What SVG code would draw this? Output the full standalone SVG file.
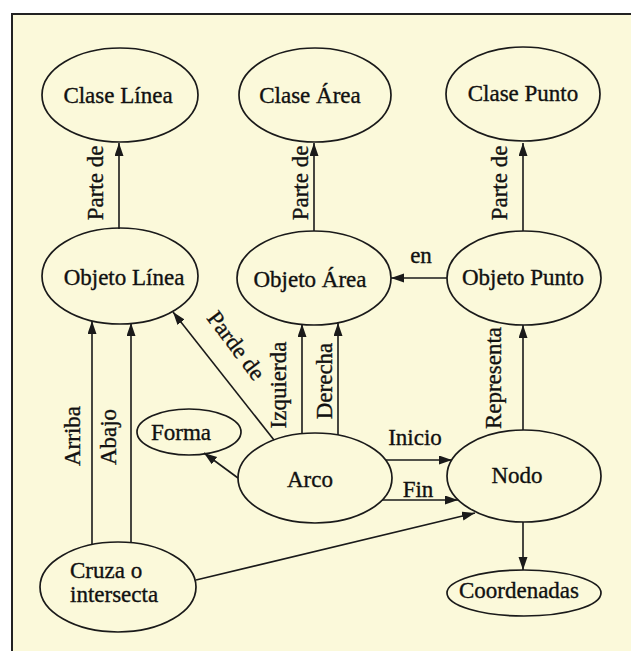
<svg xmlns="http://www.w3.org/2000/svg" width="631" height="651" viewBox="0 0 631 651">
  <style>
    .node ellipse { fill: none; stroke: #1a1a1a; stroke-width: 1.7; }
    .lbl { font-family: "Liberation Serif", "Times New Roman", serif; font-size: 23px; fill: #111; stroke: #111; stroke-width: 0.35; }
    .mid { text-anchor: middle; }
    .edge { stroke: #1a1a1a; stroke-width: 1.6; fill: none; marker-end: url(#arrow); }
    .elbl { font-family: "Liberation Serif", "Times New Roman", serif; font-size: 23px; fill: #111; stroke: #111; stroke-width: 0.35; text-anchor: middle; }
  </style>
  <defs>
    <marker id="arrow" markerUnits="userSpaceOnUse" markerWidth="14" markerHeight="10" refX="13" refY="4.5" orient="auto">
      <path d="M0,0 L13,4.5 L0,9 Z" fill="#1a1a1a"/>
    </marker>
  </defs>

  <!-- page and frame -->
  <rect x="0" y="0" width="631" height="651" fill="#ffffff"/>
  <rect x="12" y="14" width="640" height="660" fill="#fbf9da" stroke="#222" stroke-width="2"/>

  <!-- connectors -->
  <g id="connectors">
    <line class="edge" x1="119" y1="229" x2="119" y2="143"/>
    <line class="edge" x1="314" y1="231" x2="314" y2="143"/>
    <line class="edge" x1="523" y1="231" x2="523" y2="143"/>
    <line class="edge" x1="447" y1="278" x2="391" y2="278"/>
    <line class="edge" x1="274" y1="440" x2="173" y2="312"/>
    <line class="edge" x1="302" y1="434" x2="302" y2="324"/>
    <line class="edge" x1="338" y1="435" x2="338" y2="323"/>
    <line class="edge" x1="523" y1="430" x2="523" y2="325"/>
    <line class="edge" x1="238" y1="478" x2="204" y2="453"/>
    <line class="edge" x1="386" y1="460" x2="452" y2="460"/>
    <line class="edge" x1="382" y1="500" x2="458" y2="500"/>
    <line class="edge" x1="92" y1="545" x2="92" y2="321"/>
    <line class="edge" x1="131" y1="543" x2="131" y2="323"/>
    <line class="edge" x1="196" y1="580" x2="475" y2="513"/>
    <line class="edge" x1="523" y1="522" x2="523" y2="570"/>

    <!-- edge labels -->
    <text class="elbl" transform="translate(103 183) rotate(-90)">Parte de</text>
    <text class="elbl" transform="translate(308 183) rotate(-90)">Parte de</text>
    <text class="elbl" transform="translate(507 183) rotate(-90)">Parte de</text>
    <text class="elbl" x="421" y="263">en</text>
    <text class="elbl" transform="translate(230 350) rotate(53)">Parde de</text>
    <text class="elbl" transform="translate(80 436) rotate(-90)">Arriba</text>
    <text class="elbl" transform="translate(116 437) rotate(-90)">Abajo</text>
    <text class="elbl" transform="translate(286 385) rotate(-90)">Izquierda</text>
    <text class="elbl" transform="translate(332 381) rotate(-90)">Derecha</text>
    <text class="elbl" transform="translate(501 378) rotate(-90)">Representa</text>
    <text class="elbl" x="415" y="445">Inicio</text>
    <text class="elbl" x="418" y="497">Fin</text>
  </g>

  <!-- nodes -->
  <g id="clase-linea" class="node">
    <ellipse cx="120" cy="95" rx="78" ry="47"/>
    <text class="lbl mid" x="118" y="103">Clase Línea</text>
  </g>
  <g id="clase-area" class="node">
    <ellipse cx="315" cy="95" rx="76" ry="47"/>
    <text class="lbl mid" x="310" y="103">Clase Área</text>
  </g>
  <g id="clase-punto" class="node">
    <ellipse cx="523" cy="94" rx="77" ry="47"/>
    <text class="lbl mid" x="523" y="101">Clase Punto</text>
  </g>
  <g id="objeto-linea" class="node">
    <ellipse cx="120" cy="276" rx="78" ry="48"/>
    <text class="lbl mid" x="124" y="285">Objeto Línea</text>
  </g>
  <g id="objeto-area" class="node">
    <ellipse cx="314" cy="278" rx="77" ry="47"/>
    <text class="lbl mid" x="310" y="287">Objeto Área</text>
  </g>
  <g id="objeto-punto" class="node">
    <ellipse cx="524" cy="278" rx="77" ry="47"/>
    <text class="lbl mid" x="523" y="285">Objeto Punto</text>
  </g>
  <g id="forma" class="node">
    <ellipse cx="189" cy="432" rx="52" ry="23"/>
    <text class="lbl mid" x="181" y="440">Forma</text>
  </g>
  <g id="arco" class="node">
    <ellipse cx="315" cy="478" rx="77" ry="45"/>
    <text class="lbl mid" x="310" y="487">Arco</text>
  </g>
  <g id="nodo" class="node">
    <ellipse cx="524" cy="476" rx="77" ry="46"/>
    <text class="lbl mid" x="517" y="483">Nodo</text>
  </g>
  <g id="cruza" class="node">
    <ellipse cx="118" cy="587" rx="78" ry="45"/>
    <text class="lbl" x="70" y="578">Cruza o</text>
    <text class="lbl" x="70" y="602">intersecta</text>
  </g>
  <g id="coordenadas" class="node">
    <ellipse cx="524" cy="593" rx="77" ry="23"/>
    <text class="lbl mid" x="519" y="598">Coordenadas</text>
  </g>
</svg>
